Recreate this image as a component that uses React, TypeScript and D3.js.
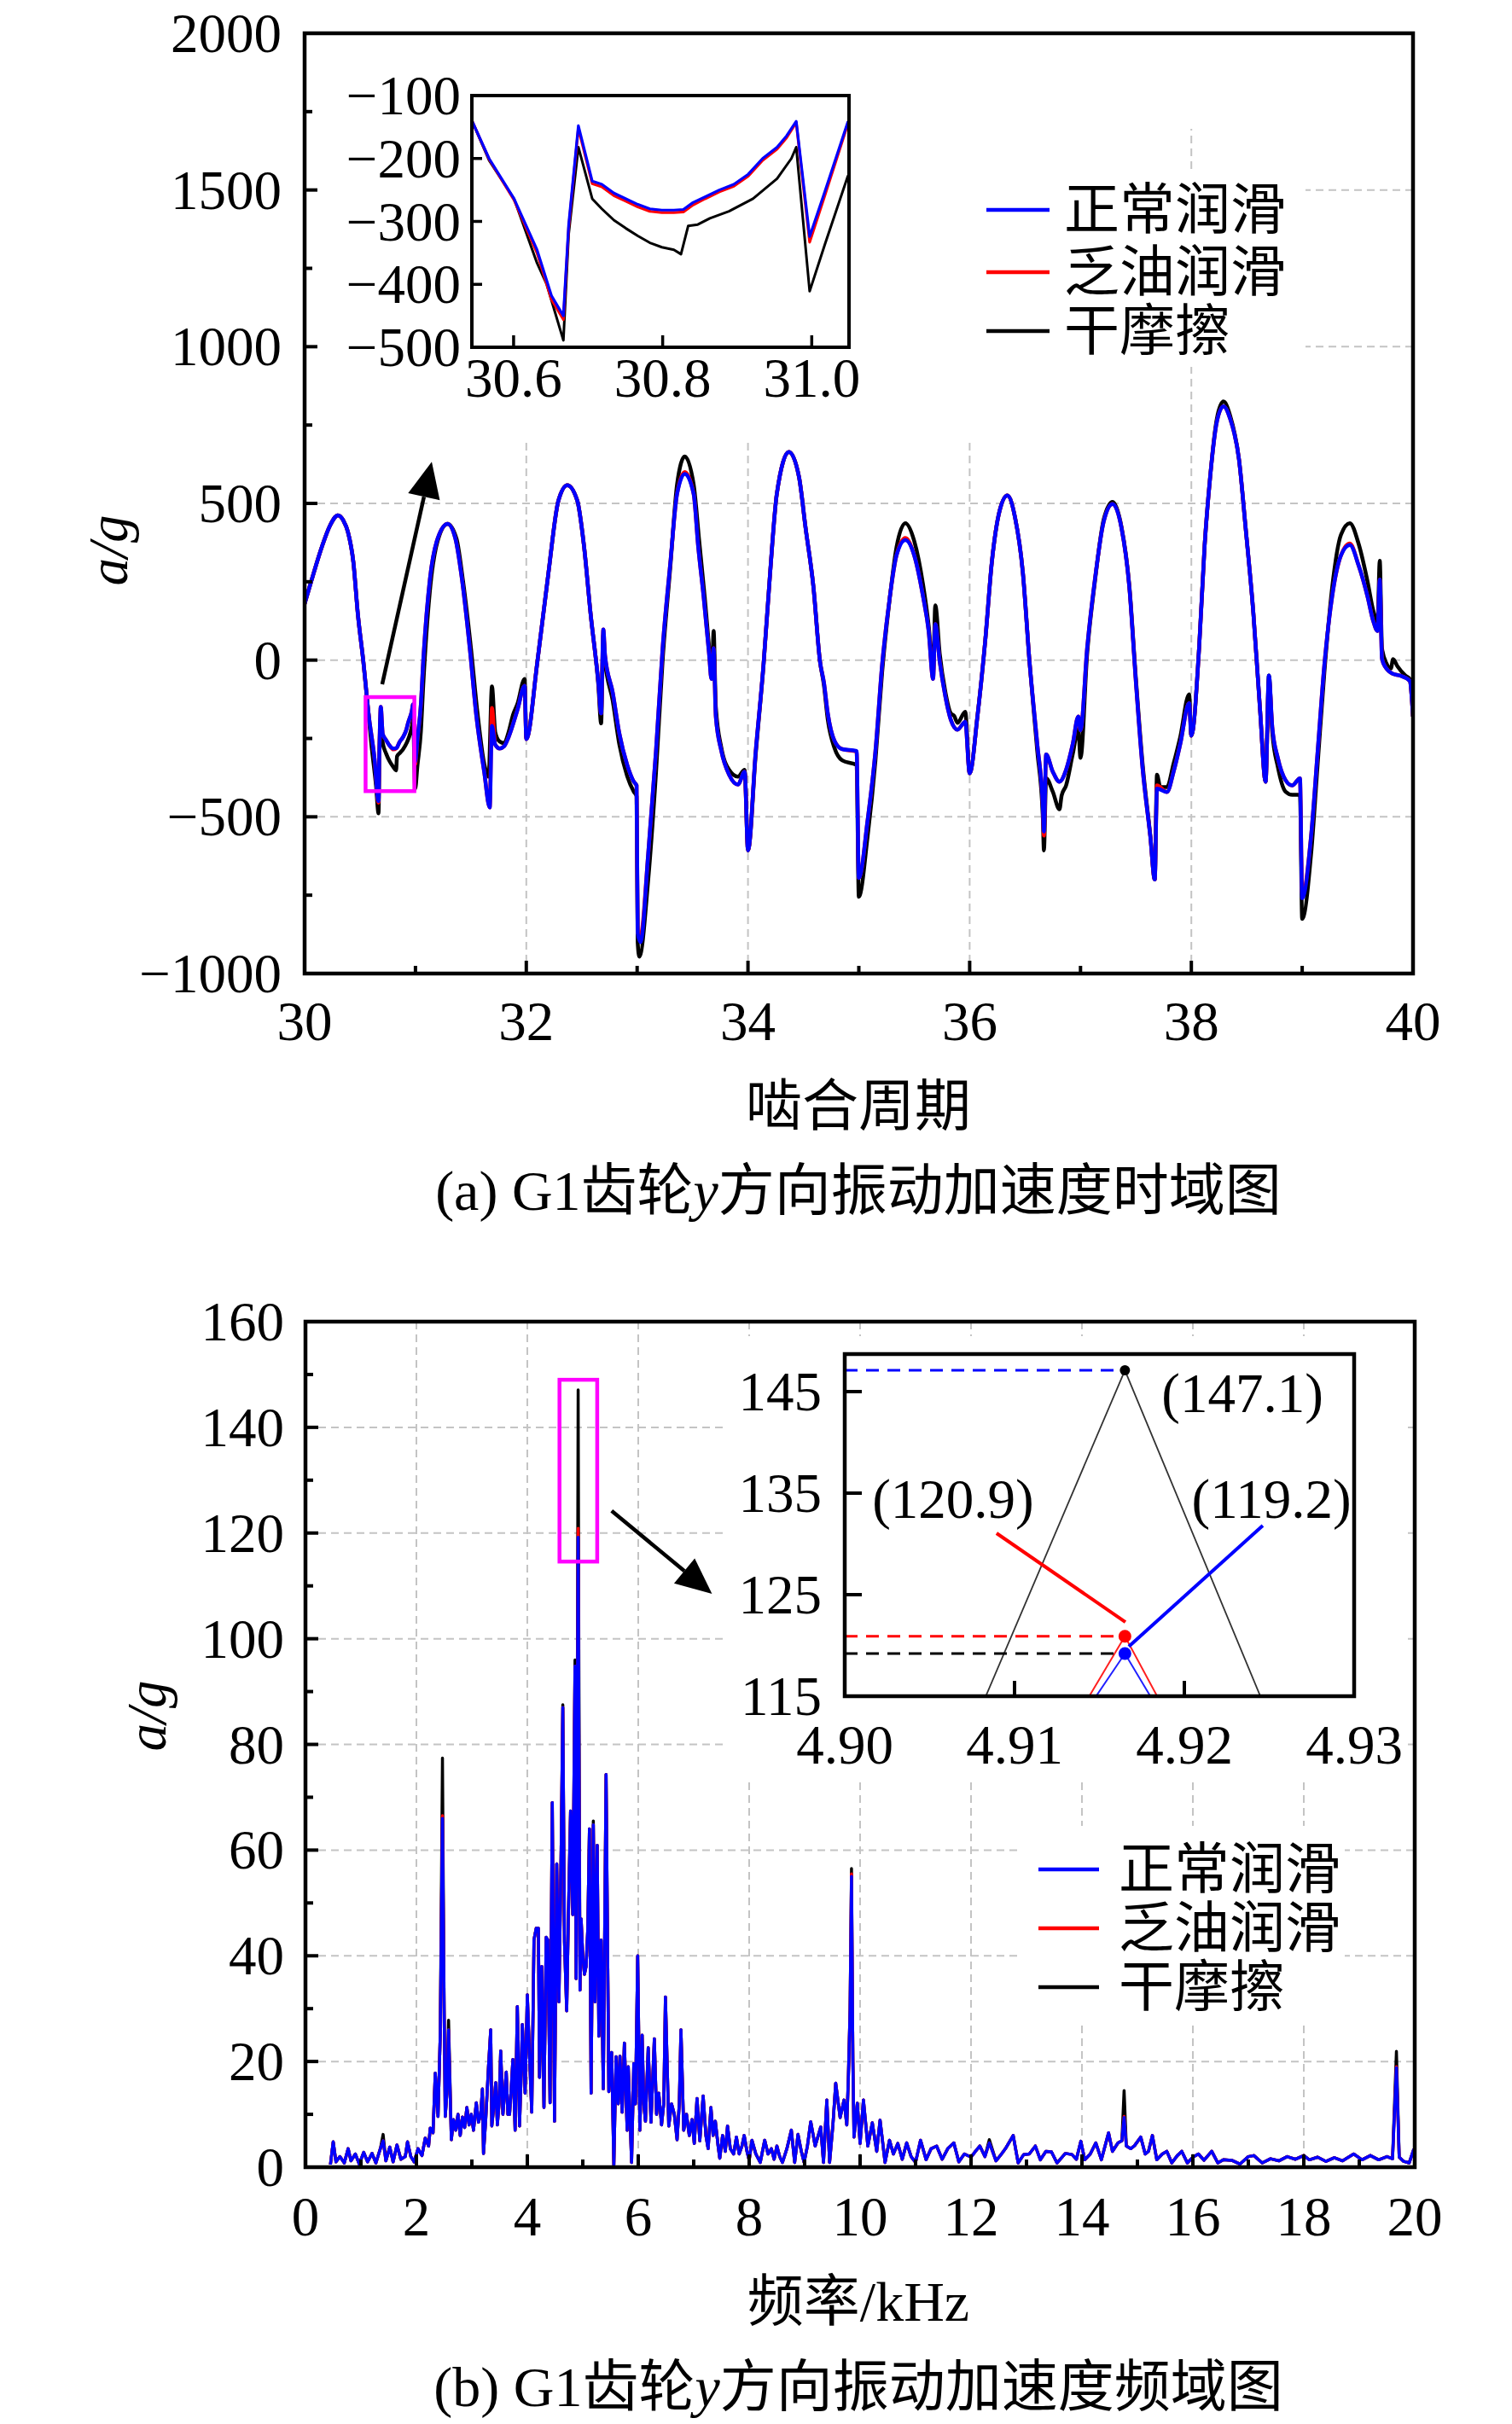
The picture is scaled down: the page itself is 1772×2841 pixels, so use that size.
import React from "react";
import * as d3 from "d3";

type Pt = [number, number];

// ---------- (a) time domain, meshing period vs a/g ----------
const timeBlue: Pt[] = [
  [30.0, 180], [30.06, 252], [30.16, 366], [30.23, 430], [30.3, 462], [30.35, 445], [30.39, 410],
  [30.44, 312], [30.48, 148], [30.53, -5], [30.58, -180], [30.63, -312], [30.667, -450], [30.674, -305],
  [30.687, -149], [30.705, -236], [30.735, -255], [30.767, -273], [30.8, -282], [30.828, -281],
  [30.857, -261], [30.889, -245], [30.915, -225], [30.934, -200], [30.966, -164], [30.979, -141],
  [30.997, -325], [31.018, -251], [31.049, -141], [31.07, -5], [31.13, 257], [31.2, 388], [31.29, 435],
  [31.36, 388], [31.42, 257], [31.49, 38], [31.55, -180], [31.62, -356], [31.67, -470], [31.69, -210],
  [31.72, -270], [31.76, -282], [31.8, -275], [31.84, -246], [31.92, -159], [31.985, -82], [32.0, -252],
  [32.1, -5], [32.2, 279], [32.29, 509], [32.37, 558], [32.46, 509], [32.52, 366], [32.58, 148],
  [32.65, -71], [32.675, -170], [32.695, 98], [32.71, 16], [32.78, -104], [32.84, -235], [32.91, -334],
  [32.97, -388], [32.995, -400], [33.005, -870], [33.03, -900], [33.1, -618], [33.17, -290], [33.23, 38],
  [33.3, 312], [33.36, 530], [33.43, 594], [33.51, 530], [33.55, 366], [33.6, 202], [33.65, 16],
  [33.67, -60], [33.69, 38], [33.71, -180], [33.76, -290], [33.83, -366], [33.91, -397], [33.97, -356],
  [34.0, -607], [34.07, -290], [34.14, -16], [34.2, 279], [34.26, 530], [34.37, 664], [34.46, 585],
  [34.52, 421], [34.59, 235], [34.65, -5], [34.685, -71], [34.72, -170], [34.78, -257], [34.85, -284],
  [34.98, -290], [35.0, -695], [35.08, -509], [35.15, -290], [35.21, -16], [35.28, 202], [35.34, 334],
  [35.42, 383], [35.5, 334], [35.58, 202], [35.63, 93], [35.67, -60], [35.69, 115], [35.73, -5],
  [35.78, -115], [35.83, -191], [35.89, -222], [35.96, -197], [36.0, -361], [36.07, -180], [36.14, 60],
  [36.2, 312], [36.27, 476], [36.34, 525], [36.41, 454], [36.48, 279], [36.54, -5], [36.61, -268],
  [36.66, -465], [36.67, -547], [36.69, -301], [36.75, -356], [36.81, -388], [36.87, -350], [36.93, -268],
  [36.98, -180], [37.0, -224], [37.06, 38], [37.13, 257], [37.21, 443], [37.29, 498], [37.37, 421],
  [37.44, 235], [37.5, -71], [37.56, -345], [37.63, -563], [37.67, -700], [37.69, -410], [37.78, -421],
  [37.84, -356], [37.9, -268], [37.98, -137], [38.0, -241], [38.07, 38], [38.12, 366], [38.17, 585],
  [38.23, 760], [38.29, 810], [38.35, 770], [38.43, 640], [38.49, 421], [38.56, 148], [38.62, -159],
  [38.67, -388], [38.7, -49], [38.73, -213], [38.78, -312], [38.85, -383], [38.91, -400], [38.98, -377],
  [39.0, -760], [39.08, -563], [39.14, -290], [39.2, -16], [39.27, 202], [39.35, 334], [39.43, 367],
  [39.51, 301], [39.59, 202], [39.64, 126], [39.68, 93], [39.7, 257], [39.72, 5], [39.75, -22],
  [39.82, -44], [39.88, -49], [39.97, -66], [40.0, -180],
];

const timeBlack: Pt[] = [
  [30.0, 180], [30.06, 252], [30.16, 366], [30.23, 430], [30.3, 462], [30.35, 445], [30.39, 410],
  [30.44, 312], [30.48, 148], [30.53, -5], [30.58, -185], [30.601, -264], [30.644, -400], [30.667, -489],
  [30.674, -320], [30.687, -182], [30.705, -264], [30.735, -298], [30.767, -323], [30.8, -341],
  [30.825, -352], [30.834, -307], [30.863, -295], [30.889, -284], [30.921, -264], [30.954, -232],
  [30.973, -200], [30.979, -182], [30.997, -411], [31.018, -336], [31.049, -227], [31.07, -80],
  [31.13, 220], [31.2, 380], [31.29, 435], [31.37, 388], [31.43, 250], [31.5, 40], [31.56, -170],
  [31.62, -330], [31.66, -372], [31.69, -84], [31.72, -230], [31.76, -260], [31.8, -265], [31.84, -230],
  [31.88, -175], [31.92, -140], [31.985, -60], [32.0, -250], [32.1, -5], [32.2, 279], [32.29, 509],
  [32.37, 558], [32.46, 509], [32.52, 366], [32.58, 148], [32.65, -80], [32.675, -202], [32.695, 80],
  [32.71, 0], [32.78, -130], [32.84, -270], [32.91, -370], [32.97, -420], [32.995, -435], [33.005, -900],
  [33.02, -946], [33.1, -700], [33.17, -360], [33.23, 0], [33.3, 300], [33.36, 560], [33.43, 650],
  [33.51, 560], [33.56, 380], [33.61, 200], [33.66, 0], [33.675, -50], [33.69, 93], [33.71, -150],
  [33.76, -280], [33.83, -350], [33.91, -372], [33.97, -350], [34.0, -607], [34.07, -300], [34.14, -16],
  [34.2, 279], [34.26, 530], [34.37, 664], [34.46, 585], [34.52, 421], [34.59, 235], [34.65, -5],
  [34.685, -80], [34.72, -190], [34.78, -280], [34.85, -320], [34.98, -335], [35.0, -755], [35.08, -560],
  [35.15, -320], [35.21, -40], [35.28, 200], [35.34, 360], [35.42, 437], [35.5, 380], [35.58, 240],
  [35.63, 110], [35.67, -40], [35.69, 175], [35.73, 20], [35.78, -100], [35.83, -170], [35.86, -178],
  [35.89, -200], [35.96, -165], [36.0, -361], [36.07, -180], [36.14, 60], [36.2, 312], [36.27, 476],
  [36.34, 525], [36.41, 454], [36.48, 279], [36.54, -5], [36.61, -290], [36.66, -500], [36.67, -607],
  [36.69, -377], [36.75, -420], [36.81, -476], [36.83, -432], [36.87, -400], [36.93, -300], [36.98, -220],
  [37.0, -312], [37.06, 20], [37.13, 250], [37.21, 450], [37.29, 505], [37.37, 425], [37.44, 240],
  [37.5, -60], [37.56, -330], [37.63, -560], [37.67, -700], [37.69, -366], [37.72, -405], [37.78, -405],
  [37.84, -330], [37.9, -245], [37.98, -109], [38.0, -241], [38.07, 38], [38.12, 366], [38.17, 585],
  [38.23, 770], [38.29, 825], [38.35, 780], [38.43, 640], [38.49, 421], [38.56, 148], [38.62, -159],
  [38.67, -388], [38.7, -49], [38.73, -230], [38.78, -340], [38.85, -420], [38.91, -430], [38.98, -430],
  [39.0, -826], [39.08, -620], [39.14, -330], [39.2, -40], [39.27, 230], [39.35, 400], [39.43, 437],
  [39.51, 370], [39.59, 250], [39.64, 160], [39.68, 120], [39.7, 317], [39.72, 38], [39.76, -10],
  [39.8, -27], [39.82, 3], [39.86, -20], [39.93, -49], [39.97, -60], [40.0, -180],
];

// points where the red curve leaves the blue one
const timeRedEdits: Pt[] = [
  [30.667, -455], [30.8, -285], [30.997, -332], [31.69, -153], [33.03, -880], [33.43, 600],
  [34.98, -292], [35.42, 390], [36.67, -560], [37.69, -400], [38.7, -60], [39.0, -745], [39.43, 372],
];

// inset of (a): 30.55 – 31.05
const zoomBlue: Pt[] = [
  [30.5445, -141], [30.5671, -200], [30.6006, -264], [30.6314, -345], [30.6508, -418], [30.6668, -450],
  [30.6739, -305], [30.6869, -148], [30.7055, -236], [30.7184, -241], [30.7345, -255], [30.7506, -264],
  [30.7667, -273], [30.7828, -280], [30.7989, -282], [30.815, -282], [30.8278, -281], [30.8407, -270],
  [30.8569, -261], [30.8761, -250], [30.8955, -241], [30.9148, -225], [30.9341, -200], [30.9535, -182],
  [30.9663, -164], [30.9792, -141], [30.9972, -324], [31.0178, -252], [31.0487, -141],
];
const zoomRed: Pt[] = [
  [30.5445, -141], [30.5671, -201], [30.6006, -266], [30.6314, -350], [30.6508, -424], [30.6668, -456],
  [30.6739, -310], [30.6869, -152], [30.7055, -240], [30.7184, -245], [30.7345, -259], [30.7506, -268],
  [30.7667, -277], [30.7828, -284], [30.7989, -286], [30.815, -286], [30.8278, -285], [30.8407, -274],
  [30.8569, -264], [30.8761, -253], [30.8955, -244], [30.9148, -228], [30.9341, -203], [30.9535, -185],
  [30.9663, -167], [30.9792, -143], [30.9972, -333], [31.0178, -258], [31.0487, -144],
];
const zoomBlack: Pt[] = [
  [30.5445, -141], [30.5671, -203], [30.6006, -264], [30.6314, -366], [30.6444, -400], [30.6668, -489],
  [30.6739, -320], [30.6869, -182], [30.7055, -264], [30.7184, -280], [30.7345, -298], [30.7506, -311],
  [30.7667, -323], [30.7828, -334], [30.7989, -341], [30.815, -345], [30.8246, -352], [30.8343, -307],
  [30.8471, -305], [30.8633, -295], [30.889, -284], [30.9212, -264], [30.9535, -232], [30.9727, -200],
  [30.9792, -182], [30.9972, -411], [31.0178, -336], [31.0487, -227],
];

// ---------- (b) frequency domain, kHz vs a/g ----------
const specBlue: Pt[] = [
  [0.45, 0.5], [0.5, 4.8], [0.55, 1.0], [0.62, 2.0], [0.7, 0.8], [0.77, 3.5], [0.82, 1.2], [0.9, 2.5],
  [0.97, 0.6], [1.05, 2.8], [1.12, 1.0], [1.2, 2.6], [1.27, 0.8], [1.35, 3.5], [1.4, 5.0], [1.45, 1.2],
  [1.52, 3.8], [1.58, 1.0], [1.65, 4.2], [1.72, 1.5], [1.8, 2.0], [1.84, 4.8], [1.9, 2.0], [1.96, 1.0],
  [2.03, 3.5], [2.1, 2.2], [2.16, 5.5], [2.22, 4.0], [2.25, 7.4], [2.3, 6.5], [2.34, 17.8], [2.39, 9.6],
  [2.43, 25], [2.47, 66], [2.5, 30], [2.52, 9.6], [2.55, 14], [2.58, 26], [2.63, 5.2], [2.67, 9],
  [2.71, 7], [2.75, 10], [2.79, 6], [2.83, 9.5], [2.87, 7.5], [2.91, 11.3], [2.95, 8], [2.99, 10],
  [3.03, 7], [3.08, 12.2], [3.12, 8.5], [3.16, 10], [3.19, 14.8], [3.21, 2.6], [3.25, 9], [3.3, 19],
  [3.34, 26], [3.36, 7.8], [3.4, 12], [3.43, 16], [3.46, 8], [3.49, 12], [3.52, 22], [3.56, 10],
  [3.59, 14], [3.62, 18], [3.65, 10], [3.68, 10], [3.71, 15], [3.74, 20.4], [3.78, 7], [3.82, 30.4],
  [3.86, 7.8], [3.89, 18], [3.91, 27], [3.94, 20], [3.96, 14], [4.0, 32.6], [4.04, 21], [4.08, 10.4],
  [4.12, 43], [4.16, 45.2], [4.2, 45.2], [4.22, 17], [4.26, 38], [4.3, 11.3], [4.34, 43.5], [4.37, 43],
  [4.41, 12.2], [4.45, 69], [4.49, 8.7], [4.53, 57.4], [4.57, 31.3], [4.61, 60], [4.64, 87], [4.67, 42.6],
  [4.71, 29.6], [4.74, 47.4], [4.78, 67.4], [4.82, 47.8], [4.86, 94.8], [4.88, 35.7], [4.9043, 89],
  [4.9165, 119.2], [4.9287, 85], [4.95, 33.5], [4.97, 47], [5.0, 40], [5.03, 36.5], [5.06, 38],
  [5.09, 45], [5.12, 64], [5.15, 14], [5.19, 64.8], [5.22, 31.3], [5.26, 60.9], [5.29, 24.8], [5.33, 43],
  [5.37, 14.8], [5.42, 74.3], [5.47, 14.3], [5.52, 21.7], [5.56, 0.4], [5.6, 20.9], [5.64, 12],
  [5.67, 21], [5.71, 10.4], [5.75, 23.5], [5.8, 7], [5.82, 19], [5.85, 10], [5.88, 0.9], [5.92, 19.6],
  [5.95, 12], [5.99, 40], [6.03, 7], [6.07, 25], [6.1, 12], [6.13, 8.7], [6.18, 22.6], [6.23, 8.5],
  [6.29, 24.3], [6.33, 10], [6.37, 14], [6.42, 8], [6.46, 12], [6.49, 32.2], [6.55, 7.8], [6.6, 12],
  [6.65, 10], [6.7, 5.2], [6.74, 12], [6.77, 26], [6.82, 7], [6.87, 10], [6.92, 6], [6.97, 9],
  [7.01, 4.5], [7.06, 13], [7.11, 5], [7.17, 13.5], [7.22, 6], [7.26, 3.5], [7.31, 11.3], [7.35, 6],
  [7.39, 8.7], [7.44, 4], [7.47, 1.7], [7.52, 6], [7.57, 3], [7.61, 7.8], [7.66, 3.5], [7.72, 2.5],
  [7.77, 5.7], [7.82, 2.5], [7.87, 4], [7.91, 6], [7.96, 3], [8.0, 1.3], [8.05, 5.1], [8.12, 2.5],
  [8.2, 0.9], [8.28, 5.1], [8.34, 2.5], [8.4, 3.5], [8.45, 1.5], [8.5, 4], [8.55, 2], [8.6, 0.9],
  [8.68, 3.5], [8.76, 7], [8.82, 0.9], [8.88, 6.2], [8.94, 3], [8.99, 0.9], [9.05, 4], [9.11, 8.6],
  [9.19, 4], [9.29, 7.6], [9.34, 0.9], [9.4, 12.7], [9.45, 0.9], [9.51, 8], [9.56, 15.9], [9.64, 9.4],
  [9.71, 12.7], [9.76, 8], [9.79, 17.5], [9.82, 30], [9.845, 55], [9.87, 20], [9.89, 5.7], [9.95, 12.1],
  [10.0, 4.5], [10.06, 12.7], [10.14, 4], [10.22, 8.4], [10.3, 3], [10.36, 8.9], [10.45, 0.9],
  [10.53, 5.1], [10.6, 2.5], [10.68, 4.5], [10.76, 1.5], [10.84, 4.6], [10.92, 2], [11.0, 0.9],
  [11.09, 5.1], [11.19, 1.4], [11.28, 3.5], [11.38, 4], [11.48, 1.5], [11.58, 3.5], [11.69, 4.6],
  [11.78, 1], [11.88, 2.5], [12.0, 1.9], [12.08, 3], [12.16, 4], [12.25, 2], [12.33, 4.6], [12.45, 1.2],
  [12.55, 2.5], [12.62, 3.5], [12.76, 6], [12.85, 0.8], [12.95, 2.4], [13.05, 2.5], [13.16, 4],
  [13.25, 1.4], [13.35, 3], [13.45, 2.9], [13.55, 0.8], [13.7, 2.6], [13.82, 2.4], [13.9, 1.5],
  [13.98, 4.9], [14.05, 1.4], [14.15, 2.5], [14.25, 4.6], [14.35, 1.4], [14.48, 6.5], [14.55, 3],
  [14.65, 4.6], [14.72, 5], [14.76, 9.4], [14.8, 4], [14.88, 3.5], [14.95, 4.1], [15.06, 5.7],
  [15.14, 2.5], [15.2, 3], [15.27, 6], [15.35, 1.4], [15.45, 2.5], [15.53, 3], [15.62, 0.8], [15.72, 2.2],
  [15.8, 3], [15.9, 0.8], [16.0, 1.9], [16.1, 2.5], [16.2, 1.3], [16.34, 3], [16.45, 0.8], [16.55, 1.4],
  [16.7, 1.3], [16.85, 0.6], [17.0, 2], [17.1, 2.2], [17.25, 0.8], [17.4, 1.6], [17.55, 1.2], [17.7, 2.0],
  [17.85, 1.5], [18.0, 2.2], [18.1, 1.4], [18.25, 1.9], [18.4, 1.1], [18.55, 1.8], [18.7, 1.2],
  [18.9, 2.5], [19.05, 1.4], [19.2, 2.2], [19.35, 1.4], [19.5, 2.0], [19.6, 1.6], [19.67, 18.8],
  [19.72, 1.9], [19.8, 1.1], [19.9, 0.8], [19.98, 3.3], [20.0, 2.5],
];
// points where the dry-friction and oil-starved spectra rise above the normal one
const specBlackPeaks: Pt[] = [
  [1.4, 6.2], [2.47, 77.4], [2.58, 27.8], [4.64, 87.5], [4.86, 96], [4.9043, 99.3], [4.9165, 147.1],
  [4.9287, 98], [5.19, 65.5], [9.845, 56.5], [12.33, 5.2], [14.76, 14.5], [19.67, 21.9],
];
const specRedPeaks: Pt[] = [
  [2.47, 66.5], [4.9043, 86.6], [4.9165, 120.9], [4.9287, 83], [9.845, 55.5], [14.76, 9.6], [19.67, 19],
];

const legendNames = ["正常润滑", "乏油润滑", "干摩擦"];
const legendColors = ["#0000ff", "#ff0000", "#000000"];

const tAxisTicks = [30, 32, 34, 36, 38, 40];
const tValTicks = [-1000, -500, 0, 500, 1000, 1500, 2000];
const zoomTimeTicks = [30.6, 30.8, 31.0];
const zoomValTicks = [-500, -400, -300, -200, -100];
const fAxisTicks = [0, 2, 4, 6, 8, 10, 12, 14, 16, 18, 20];
const fValTicks = [0, 20, 40, 60, 80, 100, 120, 140, 160];
const zoomFreqTicks = [4.9, 4.91, 4.92, 4.93];
const zoomAmpTicks = [115, 125, 135, 145];

const peakFreq = 4.9165;
const peakValues = [147.1, 120.9, 119.2]; // black, red, blue at the peak

const serif = "'Liberation Serif','Times New Roman','Noto Sans CJK SC',serif";
const fs = 65;
const minus = (v: number) => (v < 0 ? "\u2212" + Math.abs(v) : String(v));

function withEdits(base: Pt[], edits: Pt[]): Pt[] {
  return base.map(([x, y]) => {
    const e = edits.find((d) => Math.abs(d[0] - x) < 1e-6);
    return [x, e ? e[1] : y] as Pt;
  });
}

function Arrow({ x1, y1, x2, y2 }: { x1: number; y1: number; x2: number; y2: number }) {
  const len = Math.hypot(x2 - x1, y2 - y1);
  const ux = (x2 - x1) / len, uy = (y2 - y1) / len;
  const hl = 42, hw = 19;
  const bx = x2 - ux * hl, by = y2 - uy * hl;
  return (
    <g>
      <line x1={x1} y1={y1} x2={bx} y2={by} stroke="#000" strokeWidth={4.5} />
      <polygon
        points={`${x2},${y2} ${bx - uy * hw},${by + ux * hw} ${bx + uy * hw},${by - ux * hw}`}
        fill="#000"
      />
    </g>
  );
}

export default function App() {
  const W = 1772, H = 2841;

  // panel (a)
  const A = { l: 357, r: 1656, t: 39, b: 1141 };
  const xa = d3.scaleLinear().domain([30, 40]).range([A.l, A.r]);
  const ya = d3.scaleLinear().domain([-1000, 2000]).range([A.b, A.t]);
  const ZA = { l: 553, r: 995, t: 112, b: 407 };
  const xza = d3.scaleLinear().domain([30.544, 31.05]).range([ZA.l, ZA.r]);
  const yza = d3.scaleLinear().domain([-500, -100]).range([ZA.b, ZA.t]);

  // panel (b)
  const B = { l: 358, r: 1658, t: 1549, b: 2540 };
  const xb = d3.scaleLinear().domain([0, 20]).range([B.l, B.r]);
  const yb = d3.scaleLinear().domain([0, 160]).range([B.b, B.t]);
  const ZB = { l: 990, r: 1587, t: 1587, b: 1988 };
  const xzb = d3.scaleLinear().domain([4.9, 4.93]).range([ZB.l, ZB.r]);
  const yzb = d3.scaleLinear().domain([115, 148.7]).range([ZB.b, ZB.t]);

  const timeRed = withEdits(timeBlue, timeRedEdits);
  const specBlack = withEdits(specBlue, specBlackPeaks);
  const specRed = withEdits(specBlue, specRedPeaks);

  const la = d3.line<Pt>().x((d) => xa(d[0])).y((d) => ya(d[1])).curve(d3.curveMonotoneX);
  const lza = d3.line<Pt>().x((d) => xza(d[0])).y((d) => yza(d[1]));
  const lb = d3.line<Pt>().x((d) => xb(d[0])).y((d) => yb(d[1]));
  const lzb = d3.line<Pt>().x((d) => xzb(d[0])).y((d) => yzb(d[1]));

  const grid = { stroke: "#c4c4c4", strokeWidth: 2, strokeDasharray: "9,6" };
  const txt = { fontFamily: serif, fontSize: fs, fill: "#000" };

  const frame = (P: { l: number; r: number; t: number; b: number }, sw = 4.5) => (
    <rect x={P.l} y={P.t} width={P.r - P.l} height={P.b - P.t} fill="none" stroke="#000" strokeWidth={sw} />
  );

  const minorA = d3.range(-750, 2000, 500);
  const minorAX = [31, 33, 35, 37, 39];
  const minorB = d3.range(10, 160, 20);
  const minorBX = d3.range(1, 20, 2);

  const legend = (x0: number, x1: number, tx: number, rows: number[]) =>
    legendNames.map((n, i) => (
      <g key={n}>
        <line x1={x0} x2={x1} y1={rows[i]} y2={rows[i]} stroke={legendColors[i]} strokeWidth={4.5} />
        <text x={tx} y={rows[i]} dominantBaseline="central" {...txt}>
          {n}
        </text>
      </g>
    ));

  return (
    <svg width={W} height={H} style={{ position: "absolute", left: 0, top: 0, background: "#fff" }}>
      <defs>
        <clipPath id="cA"><rect x={A.l} y={A.t} width={A.r - A.l} height={A.b - A.t} /></clipPath>
        <clipPath id="cZA"><rect x={ZA.l} y={ZA.t} width={ZA.r - ZA.l} height={ZA.b - ZA.t} /></clipPath>
        <clipPath id="cB"><rect x={B.l} y={B.t} width={B.r - B.l} height={B.b - B.t} /></clipPath>
        <clipPath id="cZB"><rect x={ZB.l} y={ZB.t} width={ZB.r - ZB.l} height={ZB.b - ZB.t} /></clipPath>
      </defs>
      <rect x={0} y={0} width={W} height={H} fill="#fff" />

      {/* ================= (a) ================= */}
      <g>
        {[32, 34, 36, 38].map((v) => (
          <line key={v} x1={xa(v)} x2={xa(v)} y1={A.t} y2={A.b} {...grid} />
        ))}
        {[-500, 0, 500, 1000, 1500].map((v) => (
          <line key={v} x1={A.l} x2={A.r} y1={ya(v)} y2={ya(v)} {...grid} />
        ))}
        {/* white backgrounds of inset and legend */}
        <rect x={A.l} y={A.t} width={A.r - A.l} height={112} fill="#fff" />
        <rect x={A.l} y={A.t} width={1150 - A.l} height={516 - A.t} fill="#fff" />
        <rect x={1150} y={202} width={1530 - 1150} height={430 - 202} fill="#fff" />

        <g clipPath="url(#cA)" fill="none" strokeLinejoin="round">
          <path d={la(timeBlack) || ""} stroke="#000" strokeWidth={4.5} />
          <path d={la(timeRed) || ""} stroke="#ff0000" strokeWidth={4.5} />
          <path d={la(timeBlue) || ""} stroke="#0000ff" strokeWidth={4.5} />
        </g>

        {/* zoom window marker and arrow */}
        <rect
          x={xa(30.55)} y={ya(-118)} width={xa(30.99) - xa(30.55)} height={ya(-418) - ya(-118)}
          fill="none" stroke="#ff00ff" strokeWidth={4.5}
        />
        <Arrow x1={xa(30.7)} y1={ya(-77)} x2={xa(31.147)} y2={ya(633)} />

        {/* axes */}
        {frame(A)}
        {tValTicks.map((v) => (
          <g key={v}>
            <line x1={A.l} x2={A.l + 15} y1={ya(v)} y2={ya(v)} stroke="#000" strokeWidth={4} />
            <text x={330} y={ya(v)} textAnchor="end" dominantBaseline="central" {...txt}>
              {minus(v)}
            </text>
          </g>
        ))}
        {minorA.map((v) => (
          <line key={v} x1={A.l} x2={A.l + 9} y1={ya(v)} y2={ya(v)} stroke="#000" strokeWidth={4} />
        ))}
        {tAxisTicks.map((v) => (
          <g key={v}>
            <line x1={xa(v)} x2={xa(v)} y1={A.b} y2={A.b - 15} stroke="#000" strokeWidth={4} />
            <text x={xa(v)} y={1197} textAnchor="middle" dominantBaseline="central" {...txt}>
              {v}
            </text>
          </g>
        ))}
        {minorAX.map((v) => (
          <line key={v} x1={xa(v)} x2={xa(v)} y1={A.b} y2={A.b - 9} stroke="#000" strokeWidth={4} />
        ))}

        {/* inset */}
        <g clipPath="url(#cZA)" fill="none" strokeLinejoin="round">
          <path d={lza(zoomBlack) || ""} stroke="#000" strokeWidth={3} />
          <path d={lza(zoomRed) || ""} stroke="#ff0000" strokeWidth={3.2} />
          <path d={lza(zoomBlue) || ""} stroke="#0000ff" strokeWidth={3.2} />
        </g>
        {frame(ZA, 4)}
        {zoomValTicks.map((v) => (
          <g key={v}>
            <line x1={ZA.l} x2={ZA.l + 12} y1={yza(v)} y2={yza(v)} stroke="#000" strokeWidth={3.5} />
            <text x={540} y={yza(v)} textAnchor="end" dominantBaseline="central" {...txt}>
              {minus(v)}
            </text>
          </g>
        ))}
        {zoomTimeTicks.map((v) => (
          <g key={v}>
            <line x1={xza(v)} x2={xza(v)} y1={ZA.b} y2={ZA.b - 14} stroke="#000" strokeWidth={3.5} />
            <text x={xza(v)} y={443} textAnchor="middle" dominantBaseline="central" {...txt}>
              {v.toFixed(1)}
            </text>
          </g>
        ))}

        {legend(1156, 1230, 1247, [246, 319, 388])}

        <text
          transform={`translate(127,645) rotate(-90)`} textAnchor="middle" dominantBaseline="central"
          {...txt} fontStyle="italic"
        >
          a/g
        </text>
        <text x={1006} y={1296} textAnchor="middle" dominantBaseline="central" {...txt} fontSize={66}>
          啮合周期
        </text>
        <text x={1006} y={1395} textAnchor="middle" dominantBaseline="central" {...txt} fontSize={66}>
          (a) G1齿轮<tspan fontStyle="italic">y</tspan>方向振动加速度时域图
        </text>
      </g>

      {/* ================= (b) ================= */}
      <g>
        {d3.range(2, 20, 2).map((v) => (
          <line key={v} x1={xb(v)} x2={xb(v)} y1={B.t} y2={B.b} {...grid} />
        ))}
        {d3.range(20, 160, 20).map((v) => (
          <line key={v} x1={B.l} x2={B.r} y1={yb(v)} y2={yb(v)} {...grid} />
        ))}
        <rect x={853} y={1566} width={1650 - 853} height={2086 - 1566} fill="#fff" />
        <rect x={1198} y={2140} width={1576 - 1198} height={2370 - 2140} fill="#fff" />

        <g clipPath="url(#cB)" fill="none" strokeLinejoin="round">
          <path d={lb(specBlack) || ""} stroke="#000" strokeWidth={3.5} />
          <path d={lb(specRed) || ""} stroke="#ff0000" strokeWidth={3.5} />
          <path d={lb(specBlue) || ""} stroke="#0000ff" strokeWidth={3.5} />
        </g>

        <rect
          x={xb(4.58)} y={yb(149)} width={xb(5.26) - xb(4.58)} height={yb(114.6) - yb(149)}
          fill="none" stroke="#ff00ff" strokeWidth={4.5}
        />
        <Arrow x1={xb(5.52)} y1={yb(124.2)} x2={xb(7.33)} y2={yb(108.5)} />

        {frame(B)}
        {fValTicks.map((v) => (
          <g key={v}>
            <line x1={B.l} x2={B.l + 15} y1={yb(v)} y2={yb(v)} stroke="#000" strokeWidth={4} />
            <text x={333} y={yb(v)} textAnchor="end" dominantBaseline="central" {...txt}>
              {v}
            </text>
          </g>
        ))}
        {minorB.map((v) => (
          <line key={v} x1={B.l} x2={B.l + 9} y1={yb(v)} y2={yb(v)} stroke="#000" strokeWidth={4} />
        ))}
        {fAxisTicks.map((v) => (
          <g key={v}>
            <line x1={xb(v)} x2={xb(v)} y1={B.b} y2={B.b - 15} stroke="#000" strokeWidth={4} />
            <text x={xb(v)} y={2598} textAnchor="middle" dominantBaseline="central" {...txt}>
              {v}
            </text>
          </g>
        ))}
        {minorBX.map((v) => (
          <line key={v} x1={xb(v)} x2={xb(v)} y1={B.b} y2={B.b - 9} stroke="#000" strokeWidth={4} />
        ))}

        {/* inset of the main peak */}
        <g clipPath="url(#cZB)" fill="none">
          <path d={lzb(specBlack) || ""} stroke="#333" strokeWidth={1.8} />
          <path d={lzb(specRed) || ""} stroke="#ff2020" strokeWidth={2} />
          <path d={lzb(specBlue) || ""} stroke="#2020ff" strokeWidth={2} />
        </g>
        {peakValues.map((v, i) => (
          <line
            key={v} x1={ZB.l} x2={xzb(peakFreq)} y1={yzb(v)} y2={yzb(v)}
            stroke={["#0000ff", "#ff0000", "#000"][i]} strokeWidth={3} strokeDasharray="15,10"
          />
        ))}
        {peakValues.map((v, i) => (
          <circle key={v} cx={xzb(peakFreq)} cy={yzb(v)} r={i === 0 ? 6 : 7.5} fill={["#000", "#ff0000", "#0000ff"][i]} />
        ))}
        <line x1={xzb(4.90894)} y1={yzb(131.05)} x2={xzb(4.91653)} y2={yzb(122.3)} stroke="#ff0000" strokeWidth={4} />
        <line x1={xzb(4.92462)} y1={yzb(131.8)} x2={xzb(4.91673)} y2={yzb(119.9)} stroke="#0000ff" strokeWidth={4} />
        <text x={xzb(4.92342)} y={yzb(143.0)} textAnchor="middle" {...txt}>({peakValues[0]})</text>
        <text x={xzb(4.90638)} y={yzb(132.6)} textAnchor="middle" {...txt}>({peakValues[1]})</text>
        <text x={xzb(4.92513)} y={yzb(132.6)} textAnchor="middle" {...txt}>({peakValues[2]})</text>
        {frame(ZB, 4.5)}
        {zoomAmpTicks.map((v) => (
          <g key={v}>
            <line x1={ZB.l} x2={ZB.l + 20} y1={yzb(v)} y2={yzb(v)} stroke="#000" strokeWidth={4} />
            <text x={963} y={yzb(v)} textAnchor="end" dominantBaseline="central" {...txt}>
              {v}
            </text>
          </g>
        ))}
        {zoomFreqTicks.map((v) => (
          <g key={v}>
            <line x1={xzb(v)} x2={xzb(v)} y1={ZB.b} y2={ZB.b - 18} stroke="#000" strokeWidth={4} />
            <text x={xzb(v)} y={2045} textAnchor="middle" dominantBaseline="central" {...txt}>
              {v.toFixed(2)}
            </text>
          </g>
        ))}

        {legend(1217, 1288, 1311, [2191, 2260, 2329])}

        <text
          transform={`translate(172,2011) rotate(-90)`} textAnchor="middle" dominantBaseline="central"
          {...txt} fontStyle="italic"
        >
          a/g
        </text>
        <text x={1006} y={2697} textAnchor="middle" dominantBaseline="central" {...txt} fontSize={66}>
          频率/kHz
        </text>
        <text x={1006} y={2797} textAnchor="middle" dominantBaseline="central" {...txt} fontSize={66}>
          (b) G1齿轮<tspan fontStyle="italic">y</tspan>方向振动加速度频域图
        </text>
      </g>
    </svg>
  );
}
